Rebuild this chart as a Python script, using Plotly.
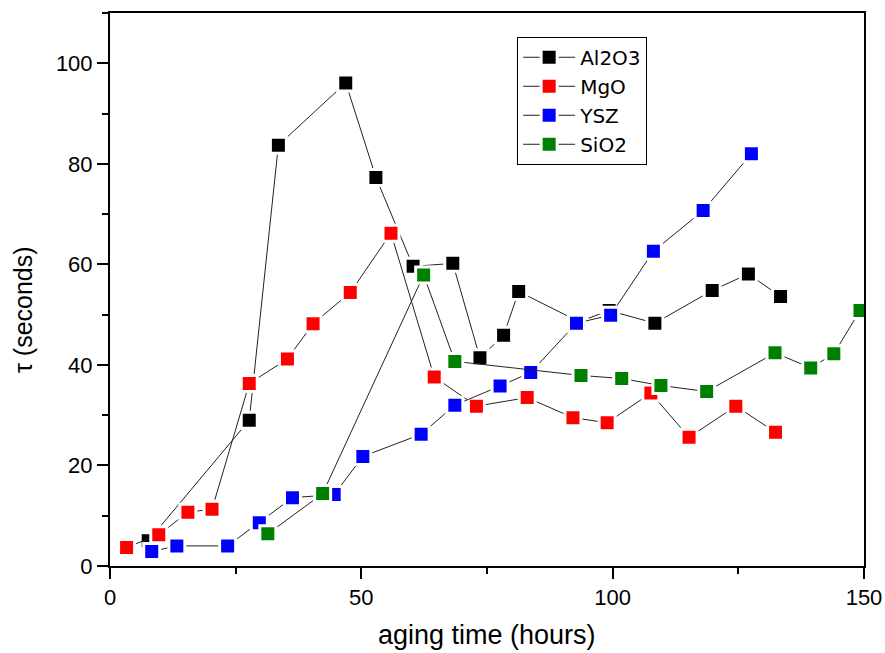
import plotly.graph_objects as go

# Relaxation time tau (s) versus aging time (h) for four oxide dopants
al2o3_t = [7.6, 27.7, 33.5, 46.9, 52.9, 60.3, 68.2, 73.6, 78.3, 81.3, 93.3, 99.3, 108.4, 119.8, 127.0, 133.4]
al2o3_tau = [5.0, 29.0, 83.7, 96.1, 77.3, 59.6, 60.2, 41.4, 45.9, 54.6, 48.6, 50.8, 48.3, 54.8, 58.1, 53.6]

mgo_t = [3.3, 9.7, 15.5, 20.3, 27.7, 35.3, 40.4, 47.8, 55.9, 64.5, 72.9, 83.0, 92.1, 98.9, 107.6, 115.2, 124.5, 132.4]
mgo_tau = [3.7, 6.2, 10.7, 11.3, 36.3, 41.2, 48.2, 54.4, 66.2, 37.6, 31.8, 33.5, 29.5, 28.5, 34.4, 25.6, 31.8, 26.6]

ysz_t = [8.3, 13.3, 23.4, 29.7, 36.3, 44.6, 50.3, 61.9, 68.6, 77.6, 83.7, 92.8, 99.6, 108.1, 118.0, 127.6]
ysz_tau = [2.9, 4.0, 4.0, 8.6, 13.6, 14.2, 21.8, 26.2, 32.0, 35.8, 38.5, 48.3, 49.9, 62.6, 70.7, 82.0]

sio2_t = [31.4, 42.3, 62.4, 68.6, 93.7, 101.8, 109.6, 118.7, 132.3, 139.4, 144.0, 149.2]
sio2_tau = [6.4, 14.4, 57.9, 40.7, 37.9, 37.3, 35.9, 34.7, 42.4, 39.4, 42.2, 50.8]

series_names = ["Al2O3", "MgO", "YSZ", "SiO2"]
series_colors = ["#000000", "#ff0000", "#0000ff", "#008000"]
series_data = [(al2o3_t, al2o3_tau), (mgo_t, mgo_tau), (ysz_t, ysz_tau), (sio2_t, sio2_tau)]

FONT = "Liberation Sans, Arial, sans-serif"
LEGEND_FONT = "DejaVu Sans, Liberation Sans, sans-serif"

fig = go.Figure()
for name, color, (t, tau) in zip(series_names, series_colors, series_data):
    fig.add_trace(go.Scatter(
        x=t, y=tau, name=name, mode="lines+markers",
        legendgroup=name,
        line=dict(color="#222222", width=1),
        marker=dict(symbol="square", size=16, color=color,
                    line=dict(color="white", width=3)),
    ))

axis_common = dict(
    showline=True, linecolor="black", linewidth=2, mirror=True,
    ticks="outside", ticklen=11, tickwidth=2, tickcolor="black",
    showgrid=False, zeroline=False, automargin=False,
    tickfont=dict(family=FONT, size=22, color="black"),
)

fig.update_xaxes(range=[0, 150], tickvals=[0, 50, 100, 150],
                 minor=dict(tickvals=[25, 75, 125], ticks="outside", ticklen=6,
                            tickwidth=2, tickcolor="black", showgrid=False),
                 **axis_common)
fig.update_yaxes(range=[0, 110], tickvals=[0, 20, 40, 60, 80, 100],
                 minor=dict(tickvals=[10, 30, 50, 70, 90, 110], ticks="outside", ticklen=6,
                            tickwidth=2, tickcolor="black", showgrid=False),
                 **axis_common)

fig.update_layout(
    width=885, height=653,
    margin=dict(l=110, r=21, t=13, b=87, autoexpand=False),
    paper_bgcolor="white", plot_bgcolor="white",
    showlegend=True,
    legend=dict(
        x=0.54, y=0.957, xanchor="left", yanchor="top",
        bgcolor="white", bordercolor="black", borderwidth=1,
        font=dict(family=LEGEND_FONT, size=20, color="black"),
        itemwidth=52, tracegroupgap=0,
    ),
    annotations=[
        dict(text="aging time (hours)", xref="paper", yref="paper",
             x=0.5, y=-0.125, xanchor="center", yanchor="middle", showarrow=False,
             font=dict(family=FONT, size=27, color="black")),
        dict(text="τ (seconds)", xref="paper", yref="paper",
             x=(23 - 110) / 754, y=(566 - 310) / 553, xanchor="center", yanchor="middle",
             textangle=-90, showarrow=False,
             font=dict(family=FONT, size=25, color="black")),
    ],
)

fig.write_html("out.html")
